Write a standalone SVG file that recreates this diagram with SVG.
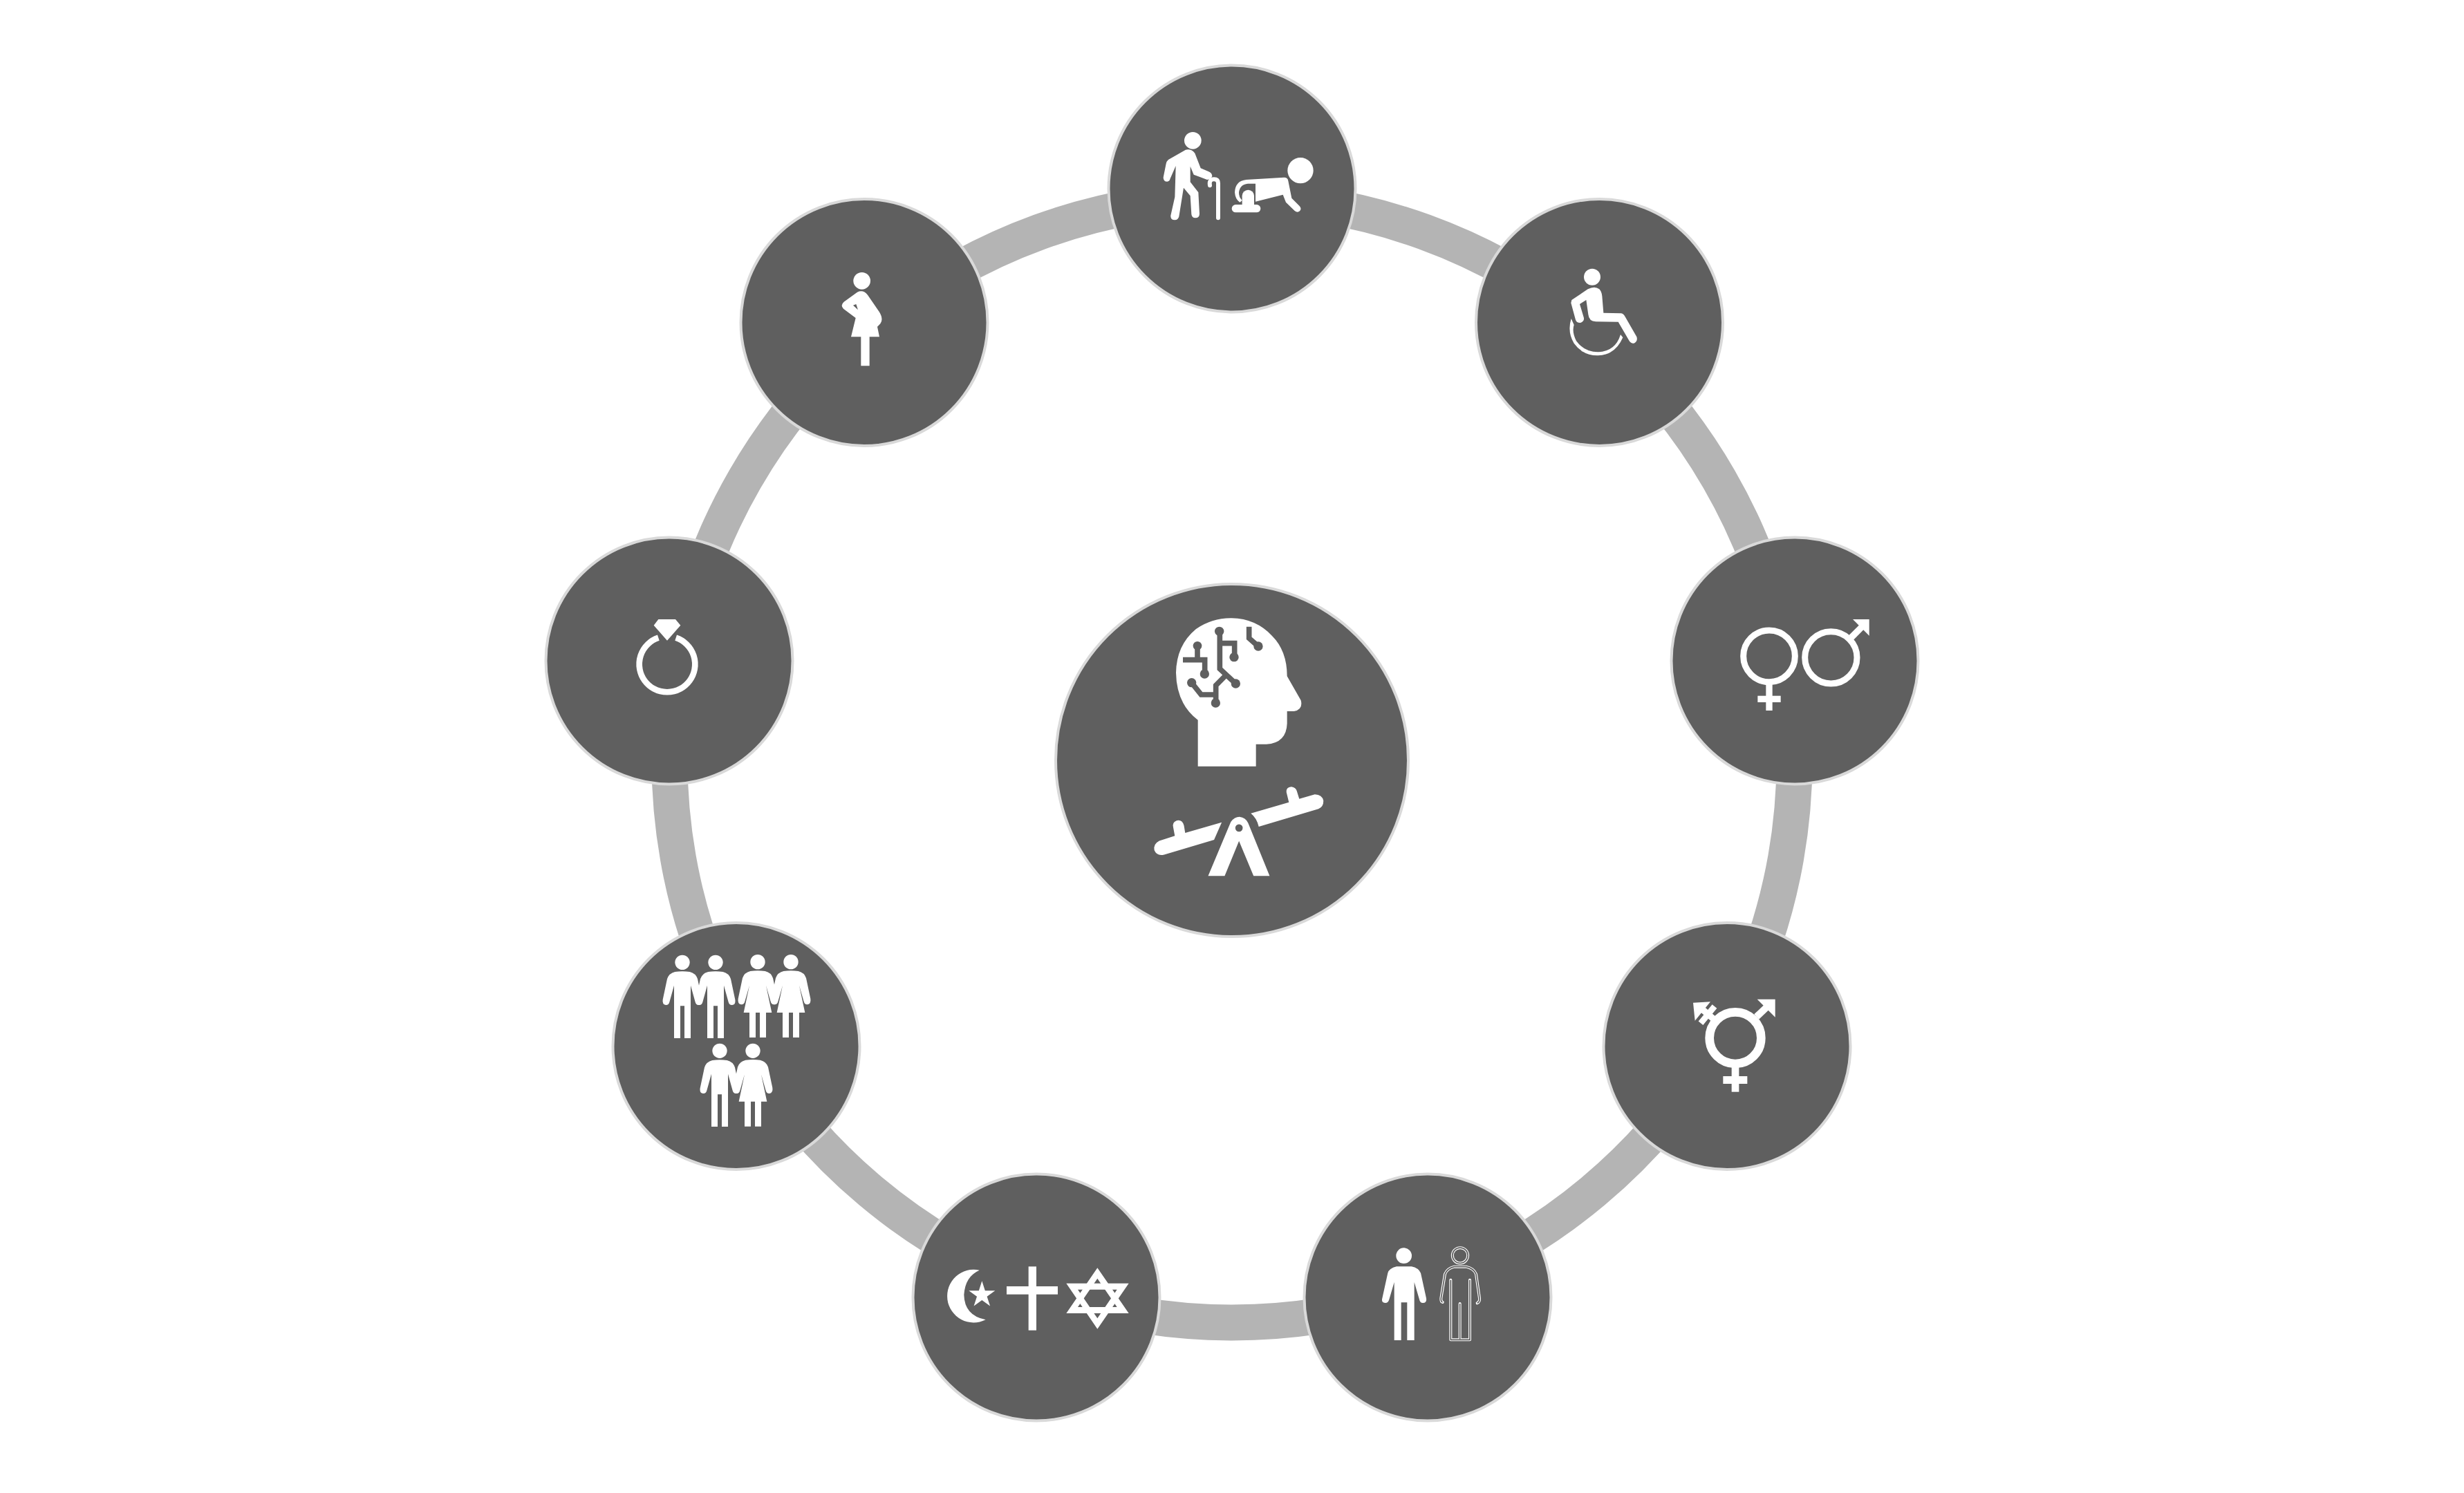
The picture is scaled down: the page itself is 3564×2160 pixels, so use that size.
<svg xmlns="http://www.w3.org/2000/svg" xmlns:xlink="http://www.w3.org/1999/xlink" width="3564" height="2160" viewBox="0 0 3564 2160">
<style>
.bg{fill:#ffffff}
.arc{fill:none;stroke:#b4b4b4;stroke-width:52}
.disc{fill:#5f5f5f;stroke:#d9d9d9;stroke-width:4}
.w{fill:#ffffff}
.d{fill:#5f5f5f}
.ws{fill:none;stroke:#ffffff}
.ds{fill:none;stroke:#5f5f5f}
.ol{fill:none;stroke:#ffffff;stroke-width:12;stroke-linecap:round;stroke-linejoin:round}
.ol2{fill:none;stroke:#5f5f5f;stroke-width:5;stroke-linejoin:round}
</style>
<defs>
<g id="man"><circle cx="0" cy="0" r="32" class="w"/><path class="w" d="M-32 41Q0 37 32 41Q58 47 66 72L85 162Q88 183 72 185Q60 186 56 172L36 100V329H9V189H-9V329H-36V100L-56 172Q-60 186-72 185Q-88 183-85 162L-66 72Q-58 47-32 41Z"/></g>
<g id="woman"><circle cx="0" cy="0" r="32" class="w"/><path class="w" d="M-32 40Q0 36 32 40Q58 46 66 70L85 160Q88 182 72 185Q60 186 56 172L36 102L61 220H36V328H9V220H-9V328H-36V220H-61L-36 102L-56 172Q-60 186-72 185Q-88 182-85 160L-66 70Q-58 46-32 40Z"/></g>
<path id="outlineMan" d="M620 552Q612 550 613 535L630 430Q640 405 670 398H722Q755 405 765 430L780 535Q782 550 770 556M655 455V715H738V455M695 558V712"/>
</defs>
<rect class="bg" x="0" y="0" width="3564" height="2160"/>
<g id="connectors">
<path class="arc" d="M1782 286.5A813.5 813.5 0 0 1 2304.9 476.8"/>
<path class="arc" d="M2304.9 476.8A813.5 813.5 0 0 1 2583.1 958.7"/>
<path class="arc" d="M2583.1 958.7A813.5 813.5 0 0 1 2486.5 1506.75"/>
<path class="arc" d="M2486.5 1506.75A813.5 813.5 0 0 1 2060.2 1864.4"/>
<path class="arc" d="M2060.2 1864.4A813.5 813.5 0 0 1 1503.8 1864.4"/>
<path class="arc" d="M1503.8 1864.4A813.5 813.5 0 0 1 1077.5 1506.75"/>
<path class="arc" d="M1077.5 1506.75A813.5 813.5 0 0 1 980.9 958.7"/>
<path class="arc" d="M980.9 958.7A813.5 813.5 0 0 1 1259.1 476.8"/>
<path class="arc" d="M1259.1 476.8A813.5 813.5 0 0 1 1782 286.5"/>
</g>
<g id="node-center">
<circle class="disc" cx="1782" cy="1100" r="255"/>
<g transform="translate(1650 870) scale(.33333)">
<path class="w" d="M248 515Q155 445 153 310Q155 190 240 120Q310 72 395 73Q500 75 570 150Q635 215 635 325L695 430Q705 470 665 477H635V530Q632 615 545 620H500V716H248Z"/>
<g class="ds" stroke-width="23">
<path d="M343 130V293L412 357M343 182H407V242M365 325L326 365V441M220 352L262 405H326M246 193V254M183 254H278V315"/>
<path d="M470 110V160L510 195"/>
</g>
<g class="d"><circle cx="341" cy="130" r="20"/><circle cx="405" cy="242" r="20"/><circle cx="412" cy="357" r="20"/><circle cx="325" cy="441" r="20"/><circle cx="221" cy="353" r="20"/><circle cx="246" cy="193" r="19"/><circle cx="277" cy="315" r="20"/><circle cx="510" cy="195" r="20"/></g>
</g>
<g transform="translate(1500 830) scale(.35714)">
<path class="w" d="M748 1007L600 1050L595 1020Q588 995 565 1000Q545 1008 552 1030L558 1062L495 1082Q470 1095 475 1120Q485 1145 515 1138L717 1078Z"/>
<path class="w" d="M866 971L1020 926L1010 885Q1008 865 1030 863Q1048 865 1052 880L1062 912L1125 894Q1155 895 1160 920Q1160 945 1140 953L898 1025Q890 990 866 971Z"/>
<path class="w" d="M693 1224L785 1005Q800 985 820 985Q845 988 855 1010L942 1224H877L818 1083L760 1224Z"/>
<circle class="d" cx="818" cy="1030" r="15"/>
</g>
</g>
<g id="node-age">
<circle class="disc" cx="1782" cy="273" r="178.5"/>
<g transform="translate(1580 70) scale(.33333)">
<circle class="w" cx="436" cy="400" r="37"/>
<path class="w" d="M405 440L330 483Q322 490 320 500L308 560Q308 578 325 578Q335 578 338 565L362 510L358 645L340 725Q338 745 358 745Q372 745 376 730L396 605L425 640L430 720Q432 736 447 736Q465 736 465 718L460 625L425 580V512L440 548L498 570Q515 568 520 555Q520 542 505 535L470 520L445 455Q430 435 405 440Z"/>
<path class="ws" stroke-width="18" stroke-linecap="round" d="M546 736V585Q546 568 528 568Q505 568 510 595"/>
<circle class="w" cx="903" cy="530" r="56"/>
<path class="w" d="M708 587V665L827 635L840 668L878 705Q890 715 900 706Q910 695 898 683L865 650L850 575Q848 560 832 560L668 570Q620 575 618 625Q620 655 640 668L650 660Q635 645 636 625Q640 590 675 587Z"/>
<path class="w" d="M650 680V640A26 26 0 0 1 702 640V680Z"/>
<rect class="w" x="605" y="678" width="125" height="34" rx="17"/>
</g>
</g>
<g id="node-disability">
<circle class="disc" cx="2313.5" cy="466.5" r="178.5"/>
<g transform="translate(2120 280) scale(.33333)">
<circle class="w" cx="549" cy="362" r="36"/>
<path class="w" d="M460 462L530 415Q560 400 580 415Q590 425 592 445L598 518L675 520Q685 522 692 535L742 622Q748 640 730 650Q718 652 710 640L662 557L565 556Q535 555 532 525L523 462L495 480L513 540Q515 555 498 561Q482 562 477 548L457 475Z"/>
<path class="w" d="M458 543Q440 600 470 650Q510 705 575 703Q650 700 682 625L672 612Q650 685 575 688Q515 688 480 640Q460 600 470 570Z"/>
</g>
</g>
<g id="node-sex">
<circle class="disc" cx="2596" cy="956" r="178.5"/>
<g transform="translate(2410 770) scale(.33333)">
<circle class="ws" cx="447" cy="538" r="112" stroke-width="27"/>
<rect class="w" x="433" y="660" width="28" height="114"/>
<rect class="w" x="397" y="710" width="100" height="28"/>
<circle class="ws" cx="715" cy="544" r="113" stroke-width="27"/>
<path class="ws" stroke-width="28" d="M803 457L855 405"/>
<polygon class="w" points="810,378 881,378 881,449"/>
</g>
</g>
<g id="node-transgender">
<circle class="disc" cx="2498" cy="1513.5" r="178.5"/>
<g transform="translate(2320 1330) scale(.33333)">
<circle class="ws" cx="570" cy="515" r="112" stroke-width="38"/>
<rect class="w" x="554" y="635" width="32" height="114"/>
<rect class="w" x="517" y="681" width="105" height="33"/>
<path class="ws" stroke-width="30" d="M662 423L718 370"/>
<polygon class="w" points="665,347 743,347 743,425"/>
<path class="ws" stroke-width="28" d="M475 432L420 385"/>
<polygon class="w" points="387,362 462,358 395,440"/>
<path class="ws" stroke-width="26" d="M480 378L420 451"/>
</g>
</g>
<g id="node-ethnicity">
<circle class="disc" cx="2065" cy="1877" r="178.5"/>
<g transform="translate(1880 1700) scale(.33333)">
<circle class="w" cx="452" cy="350" r="34"/>
<path class="w" d="M420 397H485Q515 403 525 425L549 535Q552 555 535 555Q522 556 519 540L497 465V717H466V553H440V717H410V465L388 540Q384 556 370 555Q353 553 358 535L382 425Q388 405 420 397Z"/>
<circle class="ws" cx="696" cy="349" r="33.5" stroke-width="12"/>
<circle class="ds" cx="696" cy="349" r="33.5" stroke-width="5"/>
<use href="#outlineMan" class="ol"/>
<use href="#outlineMan" class="ol2"/>
</g>
</g>
<g id="node-religion">
<circle class="disc" cx="1499" cy="1877" r="178.5"/>
<g transform="translate(1310 1700) scale(.33333)">
<path class="w" d="M320 413A115 115 0 1 0 347 628Q255 610 253 520Q258 440 320 413Z"/>
<polygon class="w" points="331,460 344.5,501.4 388,501.5 352.9,527.1 366.3,568.5 331,543 295.7,568.5 309.1,527.1 274,501.5 317.5,501.4"/>
<rect class="w" x="533" y="397" width="34" height="277"/>
<rect class="w" x="438" y="483" width="222" height="35"/>
<path class="w" fill-rule="evenodd" d="M832 403L968 600H697ZM832 449L747 573H917Z"/>
<path class="w" fill-rule="evenodd" d="M832 668L968 470H697ZM832 622L917 497H747Z"/>
</g>
</g>
<g id="node-orientation">
<circle class="disc" cx="1065" cy="1513.5" r="178.5"/>
<g transform="translate(880 1330) scale(.33333)">
<use href="#man" x="321" y="187"/>
<use href="#man" x="465" y="187"/>
<use href="#woman" x="648" y="185"/>
<use href="#woman" x="792" y="185"/>
<use href="#man" x="483" y="571"/>
<use href="#woman" x="627" y="571"/>
</g>
</g>
<g id="node-marriage">
<circle class="disc" cx="968" cy="956" r="178.5"/>
<g transform="translate(790 770) scale(.33333)">
<path class="ws" stroke-width="26" d="M487 458A121 121 0 1 0 563 458"/>
<polygon class="w" points="487,378 561,378 583,404 525,470 467,404"/>
</g>
</g>
<g id="node-pregnancy">
<circle class="disc" cx="1250" cy="466.5" r="178.5"/>
<g transform="translate(1060 280) scale(.33333)">
<circle class="w" cx="560" cy="379" r="37"/>
<path class="w" d="M540 428Q565 415 585 440L635 513Q655 545 640 565L627 578L636 622H593V748H556V622H513L533 540L480 500Q465 485 482 470Z"/>
<polygon class="d" points="522,485 535,480 543,505"/>
</g>
</g>
</svg>
